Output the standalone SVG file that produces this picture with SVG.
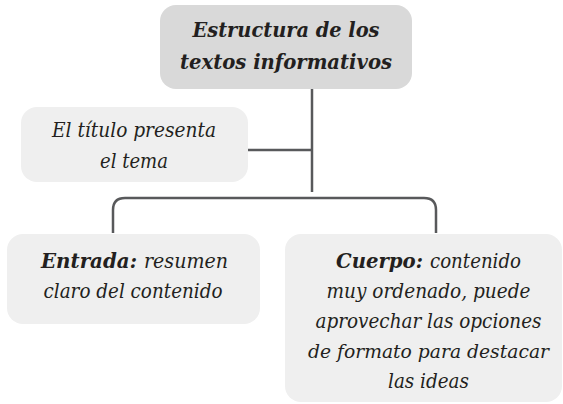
<svg xmlns="http://www.w3.org/2000/svg" width="563" height="404" viewBox="0 0 563 404">
<style>
text{font-family:'DejaVu Serif','Liberation Serif',serif;font-style:italic;font-size:20px;fill:#231f20;text-anchor:middle}
.b{font-weight:bold}
.s{text-anchor:start}
.n{font-size:19px}
.main{fill:#d9d9d9}
.box{fill:#efefef}
.ln{fill:none;stroke:#58595b;stroke-width:2.5}
</style>
<rect width="563" height="404" fill="#fff"/>
<g id="connectors">
<path class="ln" d="M312 89 V192"/>
<path class="ln" d="M248 150 H312"/>
<path class="ln" d="M113 233 V210 Q113 198 125 198 H424 Q436 198 436 210 V233"/>
</g>
<g id="title">
<rect class="main" x="160" y="5" width="252" height="84" rx="16"/>
<text class="b" x="286" y="37" textLength="187" lengthAdjust="spacingAndGlyphs">Estructura de los</text>
<text class="b" x="286" y="68.5" textLength="212" lengthAdjust="spacingAndGlyphs">textos informativos</text>
</g>
<g id="titulo">
<rect class="box" x="21" y="107" width="227" height="75" rx="16"/>
<text x="134" y="136.5" textLength="164" lengthAdjust="spacingAndGlyphs">El título presenta</text>
<text x="134" y="167.5" textLength="68" lengthAdjust="spacingAndGlyphs">el tema</text>
</g>
<g id="entrada">
<rect class="box" x="7" y="234" width="253" height="90" rx="16"/>
<text class="b s" x="41" y="268" textLength="96" lengthAdjust="spacingAndGlyphs">Entrada:</text>
<text class="s" x="144" y="268" textLength="84" lengthAdjust="spacingAndGlyphs">resumen</text>
<text x="133" y="298" textLength="179" lengthAdjust="spacingAndGlyphs">claro del contenido</text>
</g>
<g id="cuerpo">
<rect class="box" x="285" y="234" width="277" height="168" rx="16"/>
<text class="b s" x="336" y="267.5" textLength="87" lengthAdjust="spacingAndGlyphs">Cuerpo:</text>
<text class="s" x="430" y="267.5" textLength="91" lengthAdjust="spacingAndGlyphs">contenido</text>
<text x="428.5" y="297.5" textLength="204" lengthAdjust="spacingAndGlyphs">muy ordenado, puede</text>
<text x="428.5" y="327.5" textLength="226" lengthAdjust="spacingAndGlyphs">aprovechar las opciones</text>
<text class="n" x="428.5" y="357.5" textLength="241" lengthAdjust="spacingAndGlyphs">de formato para destacar</text>
<text x="428.5" y="387.5" textLength="81" lengthAdjust="spacingAndGlyphs">las ideas</text>
</g>
</svg>
